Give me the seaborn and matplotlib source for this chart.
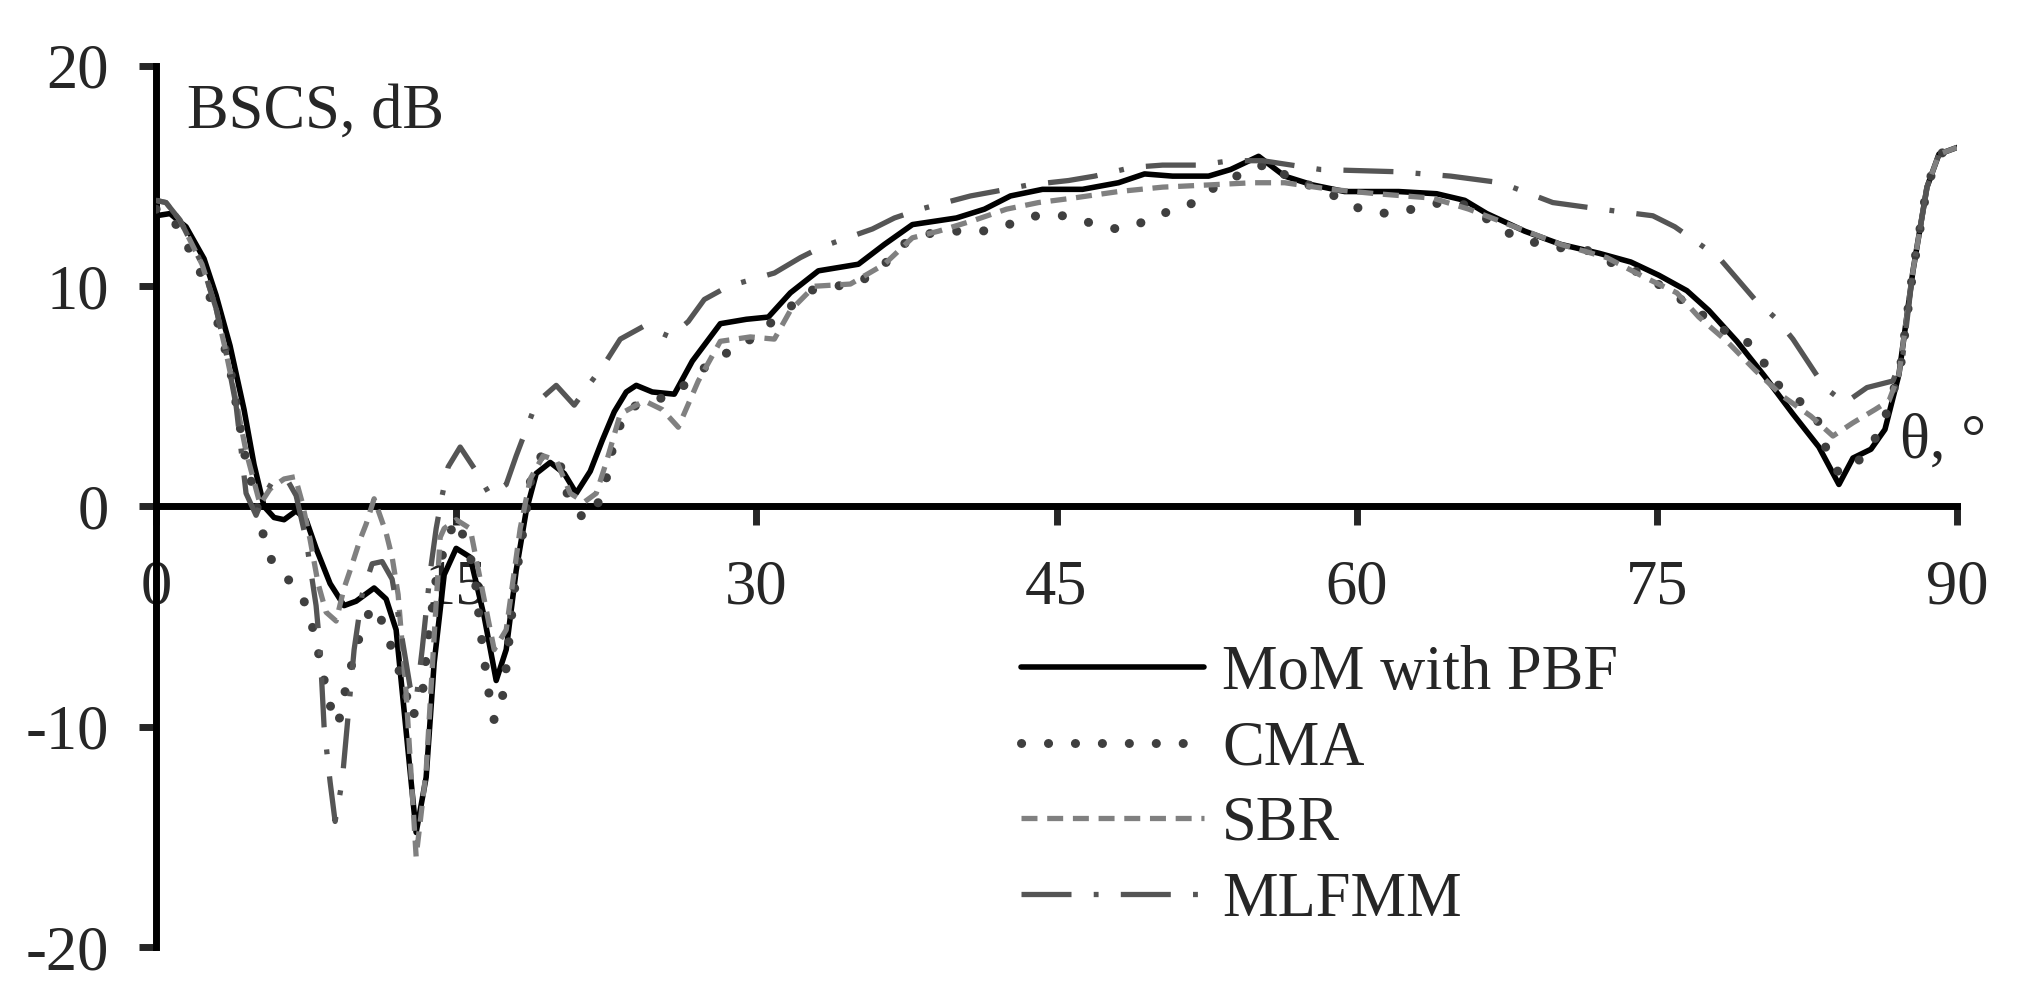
import matplotlib
matplotlib.use("Agg")
import matplotlib.pyplot as plt
import seaborn as sns

# BSCS curves (theta in degrees, BSCS in dB)
mom_x = [0, 0.7, 1.5, 2.4, 3.0, 3.7, 4.4, 4.9, 5.4, 5.9, 6.4, 7.0, 7.5, 8.0, 8.7, 9.4, 10.0, 10.9,
         11.5, 12.0, 12.5, 13.0, 13.5, 13.9, 14.4, 15.0, 15.7, 16.4, 17.0, 17.5, 18.0, 18.5, 19.0,
         19.7, 20.4, 21.0, 21.7, 22.3, 22.9, 23.5, 24.0, 24.8, 25.9, 26.8, 28.2, 29.5, 30.6, 31.7,
         33.1, 35.1, 36.4, 37.8, 40.0, 41.4, 42.7, 44.3, 46.3, 48.1, 49.4, 50.8, 52.6, 53.7, 55.1,
         56.4, 57.8, 59.4, 60.8, 62.1, 64.0, 65.4, 66.5, 68.4, 70.2, 72.1, 73.7, 75.1, 76.5, 77.6,
         79.0, 80.4, 81.8, 83.1, 84.1, 84.8, 85.7, 86.4, 87.1, 87.8, 88.5, 89.1, 90.0]
mom_y = [13.2, 13.3, 12.7, 11.25, 9.6, 7.3, 4.4, 1.9, 0.0, -0.5, -0.6, -0.2, -0.6, -1.9, -3.5, -4.5,
         -4.3, -3.7, -4.2, -5.6, -10.2, -14.8, -12.3, -7.1, -3.1, -1.9, -2.3, -5.0, -7.9, -6.5, -2.9,
         -0.2, 1.5, 2.0, 1.5, 0.6, 1.6, 3.0, 4.3, 5.2, 5.5, 5.2, 5.1, 6.6, 8.3, 8.5, 8.6, 9.7, 10.7,
         11.0, 11.9, 12.8, 13.1, 13.5, 14.1, 14.4, 14.4, 14.7, 15.1, 15.0, 15.0, 15.3, 15.9, 15.0,
         14.6, 14.3, 14.3, 14.3, 14.2, 13.9, 13.3, 12.5, 11.9, 11.5, 11.1, 10.5, 9.8, 8.9, 7.5, 5.9,
         4.2, 2.7, 1.0, 2.2, 2.6, 3.5, 6.0, 10.7, 14.5, 16.0, 16.3]

cma_x = [0, 0.7, 1.3, 2.0, 2.6, 3.2, 3.7, 4.45, 4.9, 5.3, 5.8, 6.6, 7.4, 7.9, 8.2, 8.5, 8.9, 9.1,
         9.45, 9.8, 10.2, 10.8, 11.5, 11.9, 12.3, 12.8, 13.3, 13.6, 14.0, 14.4, 14.95, 15.4, 15.9,
         16.2, 16.6, 16.9, 17.3, 17.5, 17.8, 18.0, 18.5, 18.7, 19.3, 20.2, 20.6, 21.4, 22.3, 22.6,
         22.9, 23.5, 24.6, 25.7, 26.8, 27.9, 29.3, 30.4, 31.5, 32.6, 34.0, 35.2, 36.4, 37.3, 38.7,
         39.9, 41.3, 42.6, 44.0, 45.3, 46.6, 48.0, 49.3, 50.6, 51.9, 53.2, 54.8, 55.6, 56.5, 57.6,
         58.9, 60.2, 61.5, 62.8, 64.2, 65.4, 66.6, 67.8, 69.2, 70.5, 71.8, 73.2, 74.4, 75.6, 76.8,
         78.0, 79.1, 80.1, 80.8, 82.0, 83.0, 83.5, 84.1, 85.1, 86.0, 86.6, 87.2, 87.8, 88.5, 89.1,
         90.0]
cma_y = [13.5, 13.3, 12.3, 11.1, 9.8, 8.0, 6.3, 2.3, 0.6, -1.1, -2.5, -3.3, -4.3, -5.7, -7.0, -8.3,
         -9.7, -9.9, -8.4, -7.1, -5.8, -4.5, -5.5, -6.9, -7.8, -9.6, -8.6, -6.0, -3.3, -1.9, -0.6,
         -1.4, -2.9, -5.5, -8.3, -9.7, -8.75, -7.3, -4.7, -3.1, -0.2, 1.1, 2.4, 1.9, 0.4, -0.6, 0.4,
         1.7, 3.0, 4.4, 4.8, 5.0, 5.8, 6.7, 7.3, 8.1, 8.9, 9.8, 10.0, 10.2, 11.0, 11.9, 12.4, 12.5,
         12.5, 12.8, 13.2, 13.2, 12.9, 12.6, 12.9, 13.4, 13.8, 14.7, 15.3, 15.6, 15.0, 14.6, 14.1,
         13.5, 13.3, 13.5, 13.8, 13.7, 13.0, 12.3, 11.9, 11.7, 11.6, 10.8, 10.6, 9.7, 9.1, 8.1, 7.8,
         7.0, 5.7, 4.9, 4.0, 2.5, 1.5, 2.1, 3.2, 4.5, 6.5, 10.7, 14.5, 16.0, 16.3]

sbr_x = [0, 0.5, 1.2, 2.3, 3.0, 3.5, 4.0, 4.5, 5.2, 5.7, 6.4, 6.95, 7.3, 7.7, 8.1, 8.5, 9.0, 9.4,
         9.7, 10.2, 10.5, 10.9, 11.5, 11.8, 12.1, 12.5, 13.0, 13.5, 13.9, 14.2, 14.4, 15.0, 15.7,
         16.2, 16.9, 17.5, 18.2, 18.7, 19.35, 20.0, 20.7, 21.4, 22.0, 22.5, 23.2, 24.4, 25.3, 26.1,
         27.1, 28.2, 29.7, 30.9, 31.7, 32.9, 34.7, 36.4, 37.8, 39.1, 40.9, 42.5, 44.1, 45.8, 48.1,
         50.3, 52.6, 54.8, 56.4, 58.7, 61.0, 63.8, 65.6, 67.9, 70.2, 72.5, 74.4, 76.0, 77.1, 78.5,
         79.9, 81.3, 82.7, 83.8, 84.8, 85.9, 86.6, 87.1, 87.8, 88.5, 89.1, 90.0]
sbr_y = [13.9, 13.8, 13.0, 11.0, 9.0, 7.0, 4.8, 2.5, 0.1, 0.8, 1.25, 1.35, 0.2, -1.5, -3.5, -4.8,
         -5.2, -3.7, -2.9, -1.5, -0.8, 0.35, -1.2, -2.3, -4.0, -8.5, -15.9, -12.0, -5.9, -1.4, -1.0,
         -0.6, -1.0, -3.3, -6.5, -5.6, -1.0, 1.25, 2.3, 2.1, 0.6, 0.2, 0.6, 2.0, 4.2, 4.8, 4.4, 3.6,
         5.7, 7.5, 7.7, 7.6, 8.9, 10.0, 10.1, 11.0, 12.2, 12.5, 13.0, 13.5, 13.8, 14.0, 14.3, 14.5,
         14.6, 14.7, 14.7, 14.4, 14.2, 14.0, 13.5, 12.7, 11.9, 11.3, 10.4, 9.7, 8.6, 7.5, 6.2, 5.0,
         4.1, 3.2, 3.8, 4.4, 4.8, 6.0, 10.7, 14.5, 16.0, 16.3]

mlfmm_x = [0, 0.5, 1.2, 2.3, 3.0, 3.5, 4.0, 4.5, 5.0, 5.4, 5.8, 6.5, 7.0, 7.5, 8.0, 8.2, 8.4, 8.7,
           8.95, 9.3, 9.6, 9.9, 10.3, 10.8, 11.3, 11.8, 12.3, 12.7, 13.0, 13.3, 13.7, 14.0, 14.3,
           14.6, 15.2, 16.0, 16.7, 17.5, 18.0, 19.0, 20.0, 20.9, 22.5, 23.2, 24.4, 25.7, 26.6, 27.4,
           28.6, 30.9, 32.2, 33.3, 35.8, 36.9, 38.2, 40.7, 41.9, 43.6, 45.6, 46.9, 48.8, 50.3, 52.1,
           53.7, 55.3, 58.2, 62.0, 64.7, 67.2, 69.8, 72.2, 74.8, 75.9, 77.0, 78.1, 79.9, 81.0, 81.8,
           83.4, 84.4, 85.5, 86.8, 87.3, 87.8, 88.5, 89.1, 90.0]
mlfmm_y = [13.9, 13.8, 13.0, 11.0, 9.0, 7.0, 4.6, 0.6, -0.4, 0.5, 1.1, 1.3, 0.5, -1.5, -4.5, -6.5,
           -10.0, -12.5, -14.3, -12.5, -9.5, -6.5, -4.0, -2.6, -2.5, -3.3, -6.0, -8.2, -8.8, -6.5,
           -3.0, -1.0, 0.5, 1.8, 2.7, 1.6, 0.5, 1.0, 2.3, 4.7, 5.5, 4.6, 6.6, 7.6, 8.2, 7.7, 8.4, 9.4,
           10.0, 10.6, 11.3, 11.8, 12.6, 13.1, 13.5, 14.1, 14.3, 14.6, 14.8, 15.0, 15.4, 15.5, 15.5,
           15.7, 15.7, 15.3, 15.2, 15.0, 14.7, 13.8, 13.5, 13.2, 12.7, 12.0, 11.3, 9.4, 8.5, 7.6, 5.4,
           4.7, 5.4, 5.7, 6.9, 10.7, 14.5, 16.0, 16.3]

x_ticks = [0, 15, 30, 45, 60, 75, 90]
y_ticks = [-20, -10, 0, 10, 20]

sns.set_style("white")
plt.rcParams['font.family'] = ['Liberation Serif', 'DejaVu Serif']
plt.rcParams['lines.scale_dashes'] = False
plt.rcParams['axes.unicode_minus'] = False

fig = plt.figure(figsize=(20.33, 9.99), dpi=100)
ax = fig.add_axes([156 / 2033, 1 - 947 / 999, (1957 - 156) / 2033, (947 - 66) / 999])

sns.lineplot(x=mom_x, y=mom_y, ax=ax, color="black", linewidth=4.0, label="MoM with PBF",
             sort=False, estimator=None)
sns.lineplot(x=cma_x, y=cma_y, ax=ax, color="#3f3f3f", linewidth=6.5, label="CMA",
             sort=False, estimator=None, linestyle=(0, (0.1, 19.3)), dash_capstyle="round")
sns.lineplot(x=sbr_x, y=sbr_y, ax=ax, color="#808080", linewidth=3.8, label="SBR",
             sort=False, estimator=None, linestyle=(0, (11.5, 7)))
sns.lineplot(x=mlfmm_x, y=mlfmm_y, ax=ax, color="#555555", linewidth=3.8, label="MLFMM",
             sort=False, estimator=None, linestyle=(0, (36, 16, 3.5, 16)))

ax.set_xlim(0, 90)
ax.set_ylim(-20, 20)
ax.set_xticks(x_ticks)
ax.set_yticks(y_ticks)
ax.set_xlabel("")
ax.set_ylabel("")

for side in ["top", "right"]:
    ax.spines[side].set_visible(False)
ax.spines["bottom"].set_position(("data", 0))
for side in ["left", "bottom"]:
    ax.spines[side].set_linewidth(5)
    ax.spines[side].set_color("black")
    ax.spines[side].set_zorder(1)

ax.tick_params(axis="y", direction="out", length=12, width=5, pad=22, labelsize=45, left=True)
ax.tick_params(axis="x", direction="out", length=14, width=5, pad=24, labelsize=45, bottom=True)

ax.text(1.55, 17.2, "BSCS, dB", fontsize=45, ha="left", va="baseline")
ax.text(87.15, 2.2, "θ, °", fontsize=45, ha="left", va="baseline")

ax.legend(loc="upper left", bbox_to_anchor=(1021 / 2033, 1 - 645 / 999),
          bbox_transform=fig.transFigure, frameon=False, fontsize=45,
          handlelength=2.93, handletextpad=0.29, labelspacing=0.28,
          borderpad=0, borderaxespad=0)

fig.savefig("out.png", dpi=100)
